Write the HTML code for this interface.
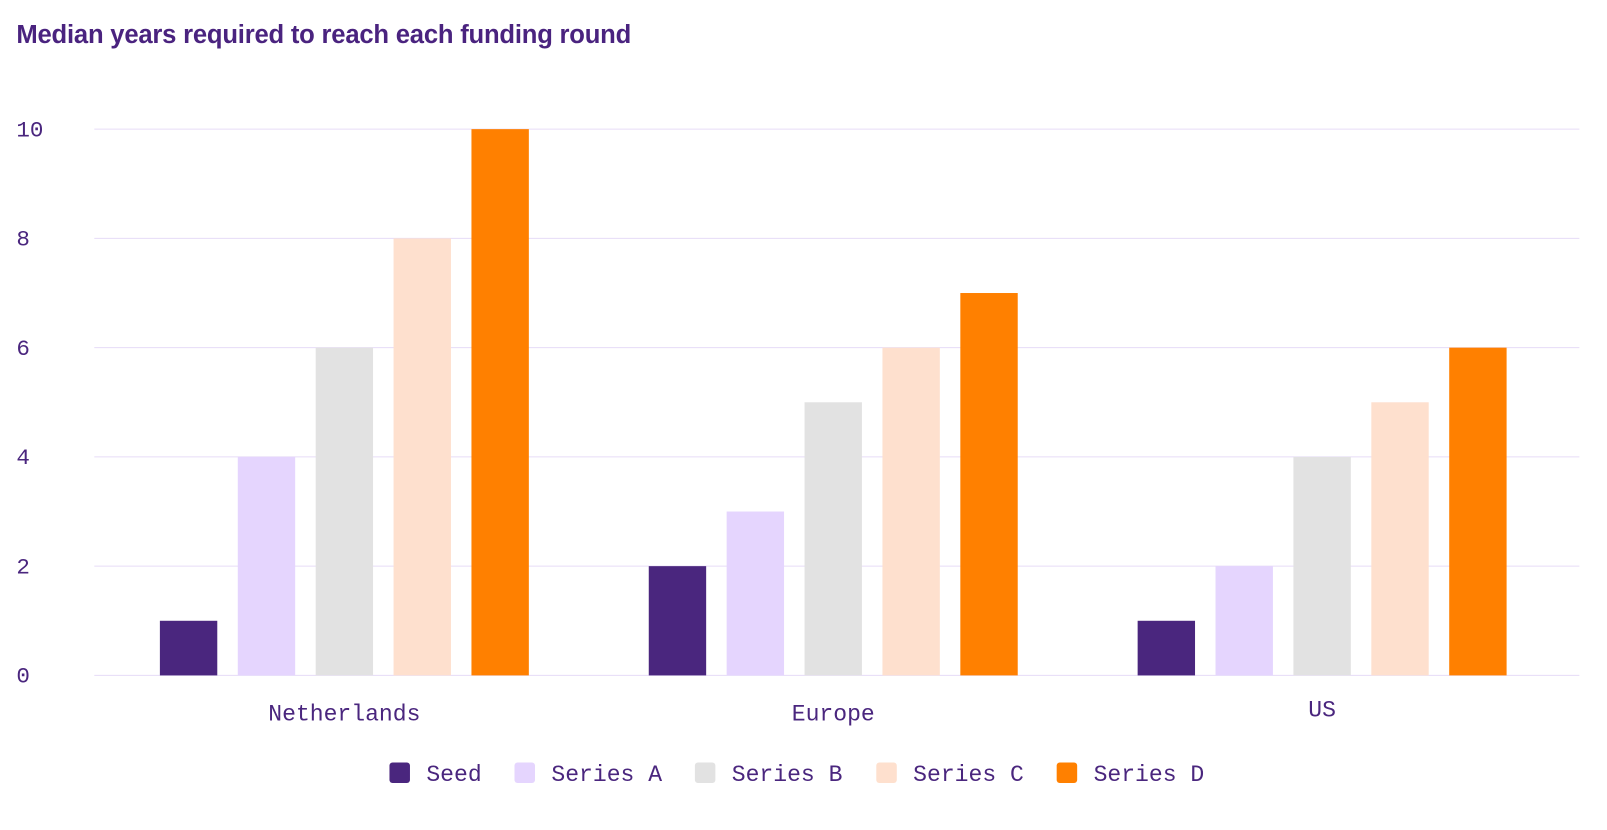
<!DOCTYPE html>
<html><head><meta charset="utf-8"><style>
body{margin:0;background:#fff;}
svg{display:block;}
.mono{font-family:"Liberation Mono","DejaVu Sans Mono",monospace;fill:#4a267e;}
</style></head><body>
<svg id="chart" width="1607" height="830" xmlns="http://www.w3.org/2000/svg">
<g transform="scale(1.0249)">
<text x="16" y="42" font-family="Liberation Sans, sans-serif" font-weight="bold" font-size="25" fill="#4a237f" letter-spacing="-0.2">Median years required to reach each funding round</text>
<g id="grid"></g><g id="bars"></g><g id="labels"></g><g id="legend"></g>
</g>
</svg>
<script>
const categories = ["Netherlands", "Europe", "US"];
const seriesNames = ["Seed", "Series A", "Series B", "Series C", "Series D"];
const seed = [1, 2, 1];
const seriesA = [4, 3, 2];
const seriesB = [6, 5, 4];
const seriesC = [8, 6, 5];
const seriesD = [10, 7, 6];
const yTicks = [0, 2, 4, 6, 8, 10];
const colors = ["#4a267e", "#e5d5fe", "#e2e2e2", "#fee0ce", "#ff8000"];
const allSeries = [seed, seriesA, seriesB, seriesC, seriesD];

const NS = "http://www.w3.org/2000/svg";
const x0 = 92, x1 = 1541, yBase = 659, yTop = 126, yMax = 10;
const y = v => yBase - (v / yMax) * (yBase - yTop);
const groupW = 477, groupStart = 97.5;
const gx = i => groupStart + groupW * (i + 0.5);
const barW = 56, pitch = 76;
function mk(tag, attrs, parent) { const e = document.createElementNS(NS, tag); for (const k in attrs) e.setAttribute(k, attrs[k]); parent.appendChild(e); return e; }

const grid = document.getElementById("grid");
yTicks.forEach(t => {
  const l = mk("line", {x1: x0, x2: x1, y1: y(t), y2: y(t), stroke: "#e6dcf7", "stroke-width": 1}, grid);
  
  
  const tx = mk("text", {x: 16, y: y(t) + 7, class: "mono", "font-size": 22}, grid);
  tx.textContent = t;
  
  
});

const bars = document.getElementById("bars");
const labelY = [703, 703, 699];
categories.forEach((c, i) => {
  allSeries.forEach((s, j) => {
    const cx = gx(i) + (j - 2) * pitch;
    const r = mk("rect", {x: cx - barW / 2, y: y(s[i]), width: barW, height: yBase - y(s[i]), fill: colors[j]}, bars);
    
    
  });
  const t = mk("text", {x: gx(i), y: labelY[i], "text-anchor": "middle", class: "mono", "font-size": 22.5}, document.getElementById("labels"));
  t.textContent = c;
  
  
});

const legend = document.getElementById("legend");
const lx = [380, 502, 678, 855, 1031];
seriesNames.forEach((n, j) => {
  const g = mk("g", {}, legend);
  
  
  mk("rect", {x: lx[j], y: 744, width: 20, height: 20, rx: 3, fill: colors[j]}, g);
  const t = mk("text", {x: lx[j] + 36, y: 762, class: "mono", "font-size": 22.5}, g);
  t.textContent = n;
});
</script>
</body></html>
